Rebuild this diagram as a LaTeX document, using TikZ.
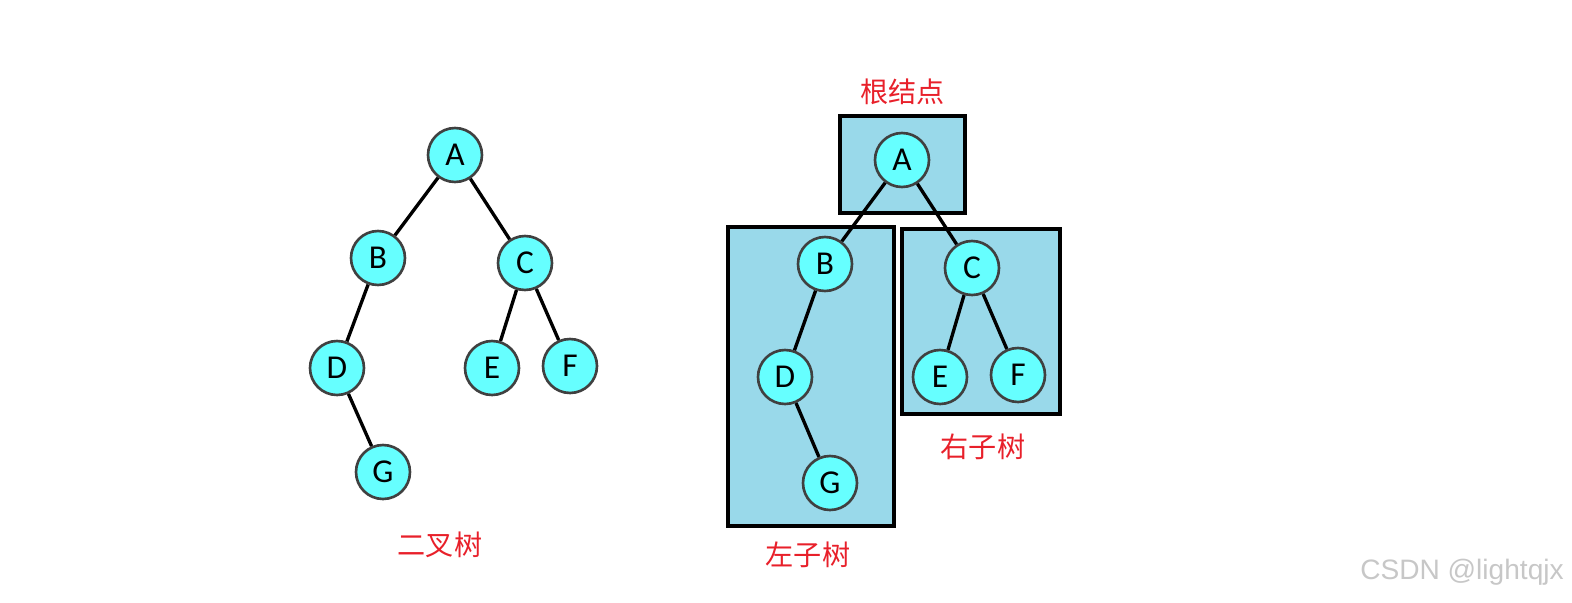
\documentclass[tikz,border=0pt]{standalone}
\usepackage{fontspec}
\setmainfont{Carlito}
\newfontfamily\cjk{Noto Sans CJK SC}
\newfontfamily\wmfont{Liberation Sans}
\usepackage{tikz}
\usetikzlibrary{positioning}
\definecolor{nodecyan}{HTML}{66FFFF}
\definecolor{boxblue}{HTML}{99D9EA}
\definecolor{labelred}{HTML}{E8202A}

\begin{document}
\begin{tikzpicture}[
    x=0.02cm, y=-0.02cm,
    treenode/.style={circle, draw=black!75, line width=1.5pt, fill=nodecyan, minimum size=1.08cm, inner sep=0pt, font=\fontsize{19}{19}\selectfont},
    edge/.style={line width=1.9pt},
    part/.style={draw=black, line width=1.8pt, fill=boxblue},
    caption/.style={text=labelred, font=\cjk\fontsize{16}{16}\selectfont}
  ]
  \useasboundingbox (0,0) rectangle (1572,602);

  % left: plain binary tree
  \node[treenode] (a) at (455,155) {A};
  \node[treenode] (b) at (378,258) {B};
  \node[treenode] (c) at (525,263) {C};
  \node[treenode] (d) at (337,368) {D};
  \node[treenode] (e) at (492,368) {E};
  \node[treenode] (f) at (570,366) {F};
  \node[treenode] (g) at (383,472) {G};

  \draw[edge] (a) -- (b);
  \draw[edge] (a) -- (c);
  \draw[edge] (b) -- (d);
  \draw[edge] (d) -- (g);
  \draw[edge] (c) -- (e);
  \draw[edge] (c) -- (f);

  \node[caption] (cap1) at (440,545) {二叉树};

  % right: root, left and right subtrees
  \node[part, minimum width=2.5cm, minimum height=1.94cm] (rootbox) at (902.5,164.5) {};
  \node[part, minimum width=3.32cm, minimum height=5.98cm] (leftbox) at (811,376.5) {};
  \node[part, minimum width=3.16cm, minimum height=3.7cm] (rightbox) at (981,321.5) {};

  \node[treenode] (ra) at (902,160) {A};
  \node[treenode] (rb) at (825,264) {B};
  \node[treenode] (rc) at (972,268) {C};
  \node[treenode] (rd) at (785,377) {D};
  \node[treenode] (re) at (940,377) {E};
  \node[treenode] (rf) at (1018,375) {F};
  \node[treenode] (rg) at (830,483) {G};

  \draw[edge] (ra) -- (rb);
  \draw[edge] (ra) -- (rc);
  \draw[edge] (rb) -- (rd);
  \draw[edge] (rd) -- (rg);
  \draw[edge] (rc) -- (re);
  \draw[edge] (rc) -- (rf);

  \node[caption, above=0.06cm of rootbox] (cap2) {根结点};
  \node[caption] (cap3) at (808,555) {左子树};
  \node[caption] (cap4) at (983,447) {右子树};

  \node[text=black!22, font=\wmfont\fontsize{16}{16}\selectfont] (mark) at (1462,572) {CSDN @lightqjx};
\end{tikzpicture}
\end{document}
